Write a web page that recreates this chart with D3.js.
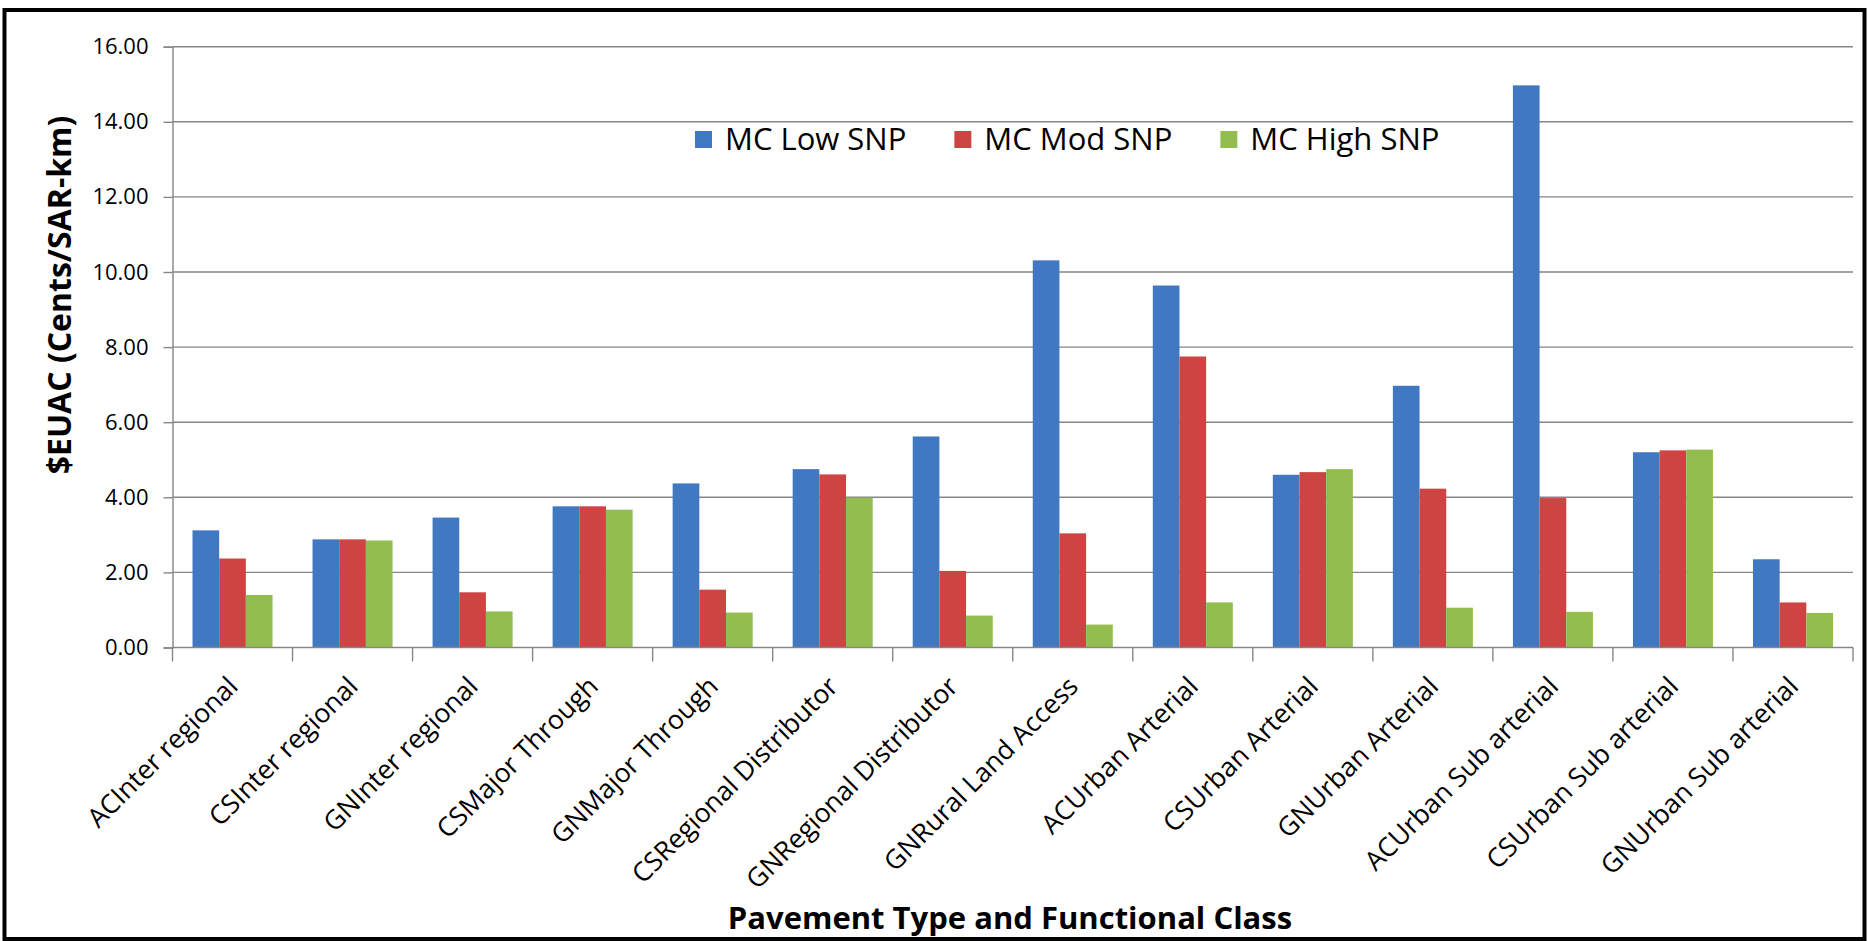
<!DOCTYPE html>
<html>
<head>
<meta charset="utf-8">
<script src="https://cdn.jsdelivr.net/npm/d3@7"></script>
<style>
  html, body { margin: 0; padding: 0; background: #fff; }
  svg { display: block; }
  text { font-family: "Open Sans", "Noto Sans", sans-serif; fill: #000; }
</style>
</head>
<body>
<svg id="chart" width="1868" height="941"></svg>
<script>
// Pavement type / functional class combinations along the category axis
const categories = [
  "ACInter regional", "CSInter regional", "GNInter regional",
  "CSMajor Through", "GNMajor Through", "CSRegional Distributor",
  "GNRegional Distributor", "GNRural Land Access", "ACUrban Arterial",
  "CSUrban Arterial", "GNUrban Arterial", "ACUrban Sub arterial",
  "CSUrban Sub arterial", "GNUrban Sub arterial"
];

// Equivalent uniform annual cost per series (cents / SAR-km)
const lowSNP  = [3.12, 2.88, 3.46, 3.76, 4.37, 4.75, 5.62, 10.31, 9.64, 4.60, 6.97, 14.97, 5.20, 2.35];
const modSNP  = [2.37, 2.88, 1.47, 3.76, 1.54, 4.61, 2.04, 3.04, 7.75, 4.67, 4.23, 3.98, 5.25, 1.20];
const highSNP = [1.40, 2.85, 0.96, 3.67, 0.93, 3.99, 0.85, 0.61, 1.20, 4.75, 1.06, 0.95, 5.27, 0.92];

const seriesNames = ["MC Low SNP", "MC Mod SNP", "MC High SNP"];
const seriesColors = ["#4178C2", "#CD4443", "#93BD4E"];
const yTicks = [0, 2, 4, 6, 8, 10, 12, 14, 16];

const seriesValues = [lowSNP, modSNP, highSNP];
const rows = categories.map((c, i) => ({
  category: c,
  values: seriesNames.map((s, j) => ({ series: s, value: seriesValues[j][i], idx: j }))
}));

const svg = d3.select("#chart");

// Outer frame
svg.append("rect")
  .attr("x", 4.5).attr("y", 10).attr("width", 1860).attr("height", 929)
  .attr("fill", "#fff").attr("stroke", "#000").attr("stroke-width", 4);

const plot = { left: 172.5, right: 1853, top: 46.7, bottom: 647.5 };

const x = d3.scaleBand()
  .domain(categories)
  .range([plot.left, plot.right])
  .paddingInner(1 / 3)
  .paddingOuter(1 / 6);

const xInner = d3.scaleBand()
  .domain(seriesNames)
  .range([0, x.bandwidth()])
  .padding(0);

const y = d3.scaleLinear().domain([0, 16]).range([plot.bottom, plot.top]);

const gridColor = "#868686";

// Horizontal gridlines
svg.append("g")
  .selectAll("line")
  .data(yTicks.filter(t => t > 0))
  .join("line")
  .attr("x1", plot.left).attr("x2", plot.right)
  .attr("y1", d => y(d)).attr("y2", d => y(d))
  .attr("stroke", gridColor).attr("stroke-width", 1.4);

// Value axis
const yAxis = d3.axisLeft(y)
  .tickValues(yTicks)
  .tickFormat(d3.format(".2f"))
  .tickSize(9)
  .tickPadding(15);

const yg = svg.append("g")
  .attr("transform", `translate(${plot.left},0)`)
  .call(yAxis);
yg.select(".domain").attr("stroke", gridColor).attr("stroke-width", 1.4);
yg.selectAll(".tick line").attr("stroke", gridColor).attr("stroke-width", 1.4);
yg.selectAll(".tick text")
  .attr("font-size", 22)
  .attr("font-family", "'Open Sans', sans-serif")
  .attr("fill", "#111");

// Bars
svg.append("g")
  .selectAll("g")
  .data(rows)
  .join("g")
  .attr("transform", d => `translate(${x(d.category)},0)`)
  .selectAll("rect")
  .data(d => d.values)
  .join("rect")
  .attr("x", d => xInner(d.series))
  .attr("width", xInner.bandwidth())
  .attr("y", d => y(d.value))
  .attr("height", d => y(0) - y(d.value))
  .attr("fill", d => seriesColors[d.idx]);

// Category axis with tick marks between groups
const step = x.step();
const boundaries = d3.range(categories.length + 1).map(i => plot.left + i * step);
svg.append("line")
  .attr("x1", plot.left).attr("x2", plot.right)
  .attr("y1", y(0)).attr("y2", y(0))
  .attr("stroke", gridColor).attr("stroke-width", 1.4);
svg.append("g")
  .selectAll("line")
  .data(boundaries)
  .join("line")
  .attr("x1", d => d).attr("x2", d => d)
  .attr("y1", y(0)).attr("y2", y(0) + 14)
  .attr("stroke", gridColor).attr("stroke-width", 1.4);

// Rotated category labels
svg.append("g")
  .selectAll("text")
  .data(categories)
  .join("text")
  .attr("transform", d => `translate(${x(d) + x.bandwidth() / 2 + 7},${688}) rotate(-45)`)
  .attr("text-anchor", "end")
  .attr("font-size", 26.5)
  .text(d => d);

// Axis titles
svg.append("text")
  .attr("transform", `translate(71,295) rotate(-90)`)
  .attr("text-anchor", "middle")
  .attr("font-size", 32)
  .attr("font-weight", "bold")
  .text("$EUAC (Cents/SAR-km)");

svg.append("text")
  .attr("x", 1010)
  .attr("y", 929)
  .attr("text-anchor", "middle")
  .attr("font-size", 31)
  .attr("font-weight", "bold")
  .text("Pavement Type and Functional Class");

// Legend
const legend = svg.append("g").attr("transform", "translate(695,0)");
let lx = 0;
seriesNames.forEach((name, i) => {
  const g = legend.append("g").attr("transform", `translate(${lx},0)`);
  g.append("rect")
    .attr("x", 0).attr("y", 131)
    .attr("width", 17).attr("height", 17)
    .attr("fill", seriesColors[i]);
  const t = g.append("text")
    .attr("x", 30).attr("y", 150)
    .attr("font-size", 31)
    .text(name);
  lx += 30 + t.node().getComputedTextLength() + 48;
});
</script>
</body>
</html>
